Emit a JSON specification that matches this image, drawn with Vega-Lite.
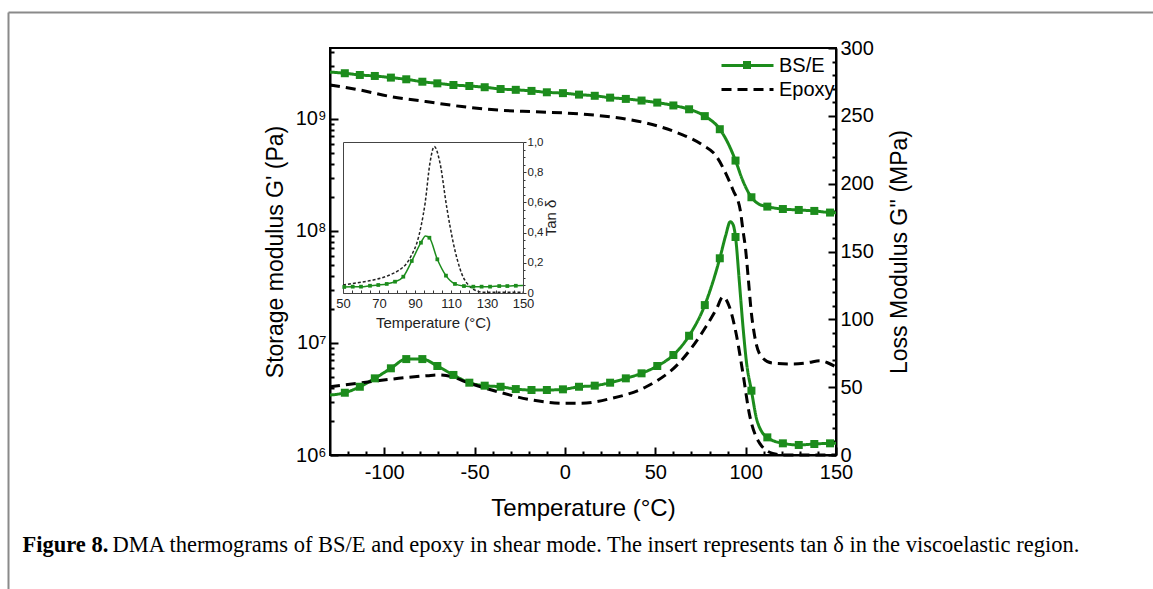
{
  "$schema": "https://vega.github.io/schema/vega-lite/v6.json",
  "autosize": {"type": "none"},
  "width": 506,
  "height": 407,
  "padding": {"left": 330, "top": 48, "right": 317, "bottom": 134},
  "background": "white",
  "config": {
    "font": "Liberation Sans",
    "view": {"stroke": "black", "strokeWidth": 2},
    "axis": {
      "grid": false, "labelFlush": false, "labelOverlap": false, "labelBound": false,
      "labelColor": "black", "tickColor": "black", "domainColor": "black", "titleColor": "black",
      "labelFont": "Liberation Sans", "titleFont": "Liberation Sans", "titleFontWeight": "normal"
    }
  },
  "datasets": {
    "storage": [
      {"sample": "BS/E", "T": -130, "G": 2.62e9}, {"sample": "BS/E", "T": -121.8, "G": 2.56e9}, {"sample": "BS/E", "T": -113.5, "G": 2.47e9},
      {"sample": "BS/E", "T": -105.2, "G": 2.42e9}, {"sample": "BS/E", "T": -96.3, "G": 2.34e9}, {"sample": "BS/E", "T": -87.8, "G": 2.26e9},
      {"sample": "BS/E", "T": -78.9, "G": 2.15e9}, {"sample": "BS/E", "T": -70.6, "G": 2.08e9}, {"sample": "BS/E", "T": -61.7, "G": 2.01e9},
      {"sample": "BS/E", "T": -52.9, "G": 1.97e9}, {"sample": "BS/E", "T": -44.4, "G": 1.92e9}, {"sample": "BS/E", "T": -35.6, "G": 1.85e9},
      {"sample": "BS/E", "T": -27.2, "G": 1.82e9}, {"sample": "BS/E", "T": -18.5, "G": 1.78e9}, {"sample": "BS/E", "T": -10, "G": 1.73e9},
      {"sample": "BS/E", "T": -1.1, "G": 1.70e9}, {"sample": "BS/E", "T": 7.8, "G": 1.65e9}, {"sample": "BS/E", "T": 16.5, "G": 1.61e9},
      {"sample": "BS/E", "T": 25, "G": 1.55e9}, {"sample": "BS/E", "T": 33.7, "G": 1.51e9}, {"sample": "BS/E", "T": 42.4, "G": 1.46e9},
      {"sample": "BS/E", "T": 51.1, "G": 1.40e9}, {"sample": "BS/E", "T": 60, "G": 1.32e9}, {"sample": "BS/E", "T": 68.7, "G": 1.22e9},
      {"sample": "BS/E", "T": 77.4, "G": 1.06e9}, {"sample": "BS/E", "T": 85.7, "G": 8.1e8}, {"sample": "BS/E", "T": 90.2, "G": 6.1e8},
      {"sample": "BS/E", "T": 94.4, "G": 4.25e8}, {"sample": "BS/E", "T": 98.3, "G": 2.85e8}, {"sample": "BS/E", "T": 103.2, "G": 2.0e8},
      {"sample": "BS/E", "T": 107, "G": 1.75e8}, {"sample": "BS/E", "T": 112, "G": 1.65e8}, {"sample": "BS/E", "T": 120.6, "G": 1.57e8},
      {"sample": "BS/E", "T": 129.4, "G": 1.54e8}, {"sample": "BS/E", "T": 138, "G": 1.51e8}, {"sample": "BS/E", "T": 146.7, "G": 1.46e8},
      {"sample": "BS/E", "T": 150, "G": 1.45e8},
      {"sample": "Epoxy", "T": -130, "G": 2.01e9}, {"sample": "Epoxy", "T": -114, "G": 1.82e9}, {"sample": "Epoxy", "T": -96, "G": 1.58e9},
      {"sample": "Epoxy", "T": -77, "G": 1.43e9}, {"sample": "Epoxy", "T": -57, "G": 1.29e9}, {"sample": "Epoxy", "T": -37, "G": 1.20e9},
      {"sample": "Epoxy", "T": -17, "G": 1.16e9}, {"sample": "Epoxy", "T": 8, "G": 1.11e9}, {"sample": "Epoxy", "T": 26, "G": 1.04e9},
      {"sample": "Epoxy", "T": 45, "G": 9.2e8}, {"sample": "Epoxy", "T": 63, "G": 7.45e8}, {"sample": "Epoxy", "T": 76, "G": 5.87e8},
      {"sample": "Epoxy", "T": 84, "G": 4.6e8}, {"sample": "Epoxy", "T": 89, "G": 3.27e8}, {"sample": "Epoxy", "T": 93, "G": 2.32e8},
      {"sample": "Epoxy", "T": 97, "G": 1.54e8}, {"sample": "Epoxy", "T": 98.5, "G": 1.02e8}, {"sample": "Epoxy", "T": 100, "G": 6.8e7},
      {"sample": "Epoxy", "T": 101.5, "G": 3.7e7}, {"sample": "Epoxy", "T": 103, "G": 1.97e7}, {"sample": "Epoxy", "T": 105, "G": 1.15e7},
      {"sample": "Epoxy", "T": 108.7, "G": 7.55e6}, {"sample": "Epoxy", "T": 115, "G": 6.6e6}, {"sample": "Epoxy", "T": 126, "G": 6.5e6},
      {"sample": "Epoxy", "T": 135, "G": 6.7e6}, {"sample": "Epoxy", "T": 141, "G": 6.95e6}, {"sample": "Epoxy", "T": 145, "G": 6.7e6},
      {"sample": "Epoxy", "T": 150, "G": 6.1e6}
    ],
    "storageMarkers": [
      {"sample": "BS/E", "T": -121.8, "G": 2.56e9}, {"sample": "BS/E", "T": -113.5, "G": 2.47e9}, {"sample": "BS/E", "T": -105.2, "G": 2.42e9},
      {"sample": "BS/E", "T": -96.3, "G": 2.34e9}, {"sample": "BS/E", "T": -87.8, "G": 2.26e9}, {"sample": "BS/E", "T": -78.9, "G": 2.15e9},
      {"sample": "BS/E", "T": -70.6, "G": 2.08e9}, {"sample": "BS/E", "T": -61.7, "G": 2.01e9}, {"sample": "BS/E", "T": -52.9, "G": 1.97e9},
      {"sample": "BS/E", "T": -44.4, "G": 1.92e9}, {"sample": "BS/E", "T": -35.6, "G": 1.85e9}, {"sample": "BS/E", "T": -27.2, "G": 1.82e9},
      {"sample": "BS/E", "T": -18.5, "G": 1.78e9}, {"sample": "BS/E", "T": -10, "G": 1.73e9}, {"sample": "BS/E", "T": -1.1, "G": 1.70e9},
      {"sample": "BS/E", "T": 7.8, "G": 1.65e9}, {"sample": "BS/E", "T": 16.5, "G": 1.61e9}, {"sample": "BS/E", "T": 25, "G": 1.55e9},
      {"sample": "BS/E", "T": 33.7, "G": 1.51e9}, {"sample": "BS/E", "T": 42.4, "G": 1.46e9}, {"sample": "BS/E", "T": 51.1, "G": 1.40e9},
      {"sample": "BS/E", "T": 60, "G": 1.32e9}, {"sample": "BS/E", "T": 68.7, "G": 1.22e9}, {"sample": "BS/E", "T": 77.4, "G": 1.06e9},
      {"sample": "BS/E", "T": 85.7, "G": 8.1e8}, {"sample": "BS/E", "T": 94.4, "G": 4.25e8}, {"sample": "BS/E", "T": 103.2, "G": 2.0e8},
      {"sample": "BS/E", "T": 112, "G": 1.65e8}, {"sample": "BS/E", "T": 120.6, "G": 1.57e8}, {"sample": "BS/E", "T": 129.4, "G": 1.54e8},
      {"sample": "BS/E", "T": 138, "G": 1.51e8}, {"sample": "BS/E", "T": 146.7, "G": 1.46e8}
    ],
    "loss": [
      {"sample": "BS/E", "T": -130, "L": 44.2}, {"sample": "BS/E", "T": -121.8, "L": 45.9}, {"sample": "BS/E", "T": -113.5, "L": 50.3},
      {"sample": "BS/E", "T": -105.2, "L": 56.5}, {"sample": "BS/E", "T": -96.3, "L": 63.9}, {"sample": "BS/E", "T": -87.8, "L": 70.7},
      {"sample": "BS/E", "T": -78.9, "L": 70.7}, {"sample": "BS/E", "T": -70.6, "L": 65.6}, {"sample": "BS/E", "T": -61.7, "L": 59},
      {"sample": "BS/E", "T": -52.9, "L": 53.3}, {"sample": "BS/E", "T": -44.4, "L": 51.1}, {"sample": "BS/E", "T": -35.6, "L": 50.3},
      {"sample": "BS/E", "T": -27.2, "L": 48.6}, {"sample": "BS/E", "T": -18.5, "L": 47.9}, {"sample": "BS/E", "T": -10, "L": 47.9},
      {"sample": "BS/E", "T": -1.1, "L": 48.4}, {"sample": "BS/E", "T": 7.8, "L": 50.3}, {"sample": "BS/E", "T": 16.5, "L": 51.1},
      {"sample": "BS/E", "T": 25, "L": 53.3}, {"sample": "BS/E", "T": 33.7, "L": 56.5}, {"sample": "BS/E", "T": 42.4, "L": 60.2},
      {"sample": "BS/E", "T": 51.1, "L": 65.6}, {"sample": "BS/E", "T": 60, "L": 73.7}, {"sample": "BS/E", "T": 68.7, "L": 87.9},
      {"sample": "BS/E", "T": 77.4, "L": 110.5}, {"sample": "BS/E", "T": 81.5, "L": 126}, {"sample": "BS/E", "T": 85.7, "L": 145},
      {"sample": "BS/E", "T": 89, "L": 162}, {"sample": "BS/E", "T": 91.5, "L": 172}, {"sample": "BS/E", "T": 93, "L": 170},
      {"sample": "BS/E", "T": 94.4, "L": 160.7}, {"sample": "BS/E", "T": 96.5, "L": 128}, {"sample": "BS/E", "T": 98.5, "L": 95},
      {"sample": "BS/E", "T": 100.5, "L": 68}, {"sample": "BS/E", "T": 103.2, "L": 47.4}, {"sample": "BS/E", "T": 106, "L": 27},
      {"sample": "BS/E", "T": 109, "L": 17}, {"sample": "BS/E", "T": 112, "L": 13}, {"sample": "BS/E", "T": 120.6, "L": 8.6},
      {"sample": "BS/E", "T": 129.4, "L": 7.4}, {"sample": "BS/E", "T": 138, "L": 8.1}, {"sample": "BS/E", "T": 146.7, "L": 8.6},
      {"sample": "BS/E", "T": 150, "L": 8.6},
      {"sample": "Epoxy", "T": -130, "L": 50.3}, {"sample": "Epoxy", "T": -115, "L": 52.8}, {"sample": "Epoxy", "T": -92, "L": 56.5},
      {"sample": "Epoxy", "T": -76, "L": 58.5}, {"sample": "Epoxy", "T": -70, "L": 59}, {"sample": "Epoxy", "T": -62, "L": 57.5},
      {"sample": "Epoxy", "T": -55, "L": 54}, {"sample": "Epoxy", "T": -37, "L": 46.6}, {"sample": "Epoxy", "T": -18, "L": 40.5},
      {"sample": "Epoxy", "T": 0, "L": 38.1}, {"sample": "Epoxy", "T": 8, "L": 38.1}, {"sample": "Epoxy", "T": 26, "L": 41.8},
      {"sample": "Epoxy", "T": 45, "L": 50.3}, {"sample": "Epoxy", "T": 63, "L": 67.6}, {"sample": "Epoxy", "T": 78, "L": 94.5},
      {"sample": "Epoxy", "T": 84, "L": 108}, {"sample": "Epoxy", "T": 87.4, "L": 116.6}, {"sample": "Epoxy", "T": 91, "L": 109.3},
      {"sample": "Epoxy", "T": 94.7, "L": 89.7}, {"sample": "Epoxy", "T": 98.5, "L": 60.2}, {"sample": "Epoxy", "T": 102, "L": 30.7},
      {"sample": "Epoxy", "T": 107.8, "L": 8.6}, {"sample": "Epoxy", "T": 115, "L": 1.2}, {"sample": "Epoxy", "T": 122, "L": 0},
      {"sample": "Epoxy", "T": 150, "L": 0}
    ],
    "lossMarkers": [
      {"sample": "BS/E", "T": -121.8, "L": 45.9}, {"sample": "BS/E", "T": -113.5, "L": 50.3}, {"sample": "BS/E", "T": -105.2, "L": 56.5},
      {"sample": "BS/E", "T": -96.3, "L": 63.9}, {"sample": "BS/E", "T": -87.8, "L": 70.7}, {"sample": "BS/E", "T": -78.9, "L": 70.7},
      {"sample": "BS/E", "T": -70.6, "L": 65.6}, {"sample": "BS/E", "T": -61.7, "L": 59}, {"sample": "BS/E", "T": -52.9, "L": 53.3},
      {"sample": "BS/E", "T": -44.4, "L": 51.1}, {"sample": "BS/E", "T": -35.6, "L": 50.3}, {"sample": "BS/E", "T": -27.2, "L": 48.6},
      {"sample": "BS/E", "T": -18.5, "L": 47.9}, {"sample": "BS/E", "T": -10, "L": 47.9}, {"sample": "BS/E", "T": -1.1, "L": 48.4},
      {"sample": "BS/E", "T": 7.8, "L": 50.3}, {"sample": "BS/E", "T": 16.5, "L": 51.1}, {"sample": "BS/E", "T": 25, "L": 53.3},
      {"sample": "BS/E", "T": 33.7, "L": 56.5}, {"sample": "BS/E", "T": 42.4, "L": 60.2}, {"sample": "BS/E", "T": 51.1, "L": 65.6},
      {"sample": "BS/E", "T": 60, "L": 73.7}, {"sample": "BS/E", "T": 68.7, "L": 87.9}, {"sample": "BS/E", "T": 77.4, "L": 110.5},
      {"sample": "BS/E", "T": 85.7, "L": 145}, {"sample": "BS/E", "T": 94.4, "L": 160.7}, {"sample": "BS/E", "T": 103.2, "L": 47.4},
      {"sample": "BS/E", "T": 112, "L": 13}, {"sample": "BS/E", "T": 120.6, "L": 8.6}, {"sample": "BS/E", "T": 129.4, "L": 7.4},
      {"sample": "BS/E", "T": 138, "L": 8.1}, {"sample": "BS/E", "T": 146.7, "L": 8.6}
    ],
    "tan": [
      {"sample": "Epoxy", "T": 50, "tan": 0.053}, {"sample": "Epoxy", "T": 58, "tan": 0.068}, {"sample": "Epoxy", "T": 66.8, "tan": 0.086},
      {"sample": "Epoxy", "T": 76.1, "tan": 0.12}, {"sample": "Epoxy", "T": 81, "tan": 0.15}, {"sample": "Epoxy", "T": 85.4, "tan": 0.197},
      {"sample": "Epoxy", "T": 88.5, "tan": 0.26}, {"sample": "Epoxy", "T": 91, "tan": 0.33}, {"sample": "Epoxy", "T": 93.5, "tan": 0.45},
      {"sample": "Epoxy", "T": 95.6, "tan": 0.594}, {"sample": "Epoxy", "T": 98.3, "tan": 0.86}, {"sample": "Epoxy", "T": 100.7, "tan": 0.97},
      {"sample": "Epoxy", "T": 103.9, "tan": 0.86}, {"sample": "Epoxy", "T": 107.6, "tan": 0.57}, {"sample": "Epoxy", "T": 111.3, "tan": 0.33},
      {"sample": "Epoxy", "T": 115.9, "tan": 0.13}, {"sample": "Epoxy", "T": 120.6, "tan": 0.042}, {"sample": "Epoxy", "T": 124, "tan": 0.015},
      {"sample": "Epoxy", "T": 128, "tan": 0.005}, {"sample": "Epoxy", "T": 150, "tan": 0.005},
      {"sample": "BS/E", "T": 50, "tan": 0.04}, {"sample": "BS/E", "T": 55.4, "tan": 0.042}, {"sample": "BS/E", "T": 60, "tan": 0.042},
      {"sample": "BS/E", "T": 65, "tan": 0.048}, {"sample": "BS/E", "T": 69.6, "tan": 0.053}, {"sample": "BS/E", "T": 74.3, "tan": 0.06},
      {"sample": "BS/E", "T": 78.9, "tan": 0.075}, {"sample": "BS/E", "T": 83.5, "tan": 0.108}, {"sample": "BS/E", "T": 88.2, "tan": 0.212},
      {"sample": "BS/E", "T": 93.3, "tan": 0.333}, {"sample": "BS/E", "T": 95.8, "tan": 0.378}, {"sample": "BS/E", "T": 98, "tan": 0.366},
      {"sample": "BS/E", "T": 102.4, "tan": 0.223}, {"sample": "BS/E", "T": 107.2, "tan": 0.115}, {"sample": "BS/E", "T": 112.2, "tan": 0.06},
      {"sample": "BS/E", "T": 117.2, "tan": 0.046}, {"sample": "BS/E", "T": 122.4, "tan": 0.042}, {"sample": "BS/E", "T": 127, "tan": 0.042},
      {"sample": "BS/E", "T": 131.7, "tan": 0.042}, {"sample": "BS/E", "T": 136.8, "tan": 0.046}, {"sample": "BS/E", "T": 141.3, "tan": 0.046},
      {"sample": "BS/E", "T": 146, "tan": 0.048}, {"sample": "BS/E", "T": 150, "tan": 0.05}
    ],
    "tanMarkers": [
      {"sample": "BS/E", "T": 50.7, "tan": 0.04}, {"sample": "BS/E", "T": 55.4, "tan": 0.042}, {"sample": "BS/E", "T": 60, "tan": 0.042},
      {"sample": "BS/E", "T": 65, "tan": 0.048}, {"sample": "BS/E", "T": 69.6, "tan": 0.053}, {"sample": "BS/E", "T": 74.3, "tan": 0.06},
      {"sample": "BS/E", "T": 78.9, "tan": 0.075}, {"sample": "BS/E", "T": 83.5, "tan": 0.108}, {"sample": "BS/E", "T": 88.2, "tan": 0.212},
      {"sample": "BS/E", "T": 93.3, "tan": 0.333}, {"sample": "BS/E", "T": 98, "tan": 0.366}, {"sample": "BS/E", "T": 102.4, "tan": 0.223},
      {"sample": "BS/E", "T": 107.2, "tan": 0.115}, {"sample": "BS/E", "T": 112.2, "tan": 0.06}, {"sample": "BS/E", "T": 117.2, "tan": 0.046},
      {"sample": "BS/E", "T": 122.4, "tan": 0.042}, {"sample": "BS/E", "T": 127, "tan": 0.042}, {"sample": "BS/E", "T": 131.7, "tan": 0.042},
      {"sample": "BS/E", "T": 136.8, "tan": 0.046}, {"sample": "BS/E", "T": 141.3, "tan": 0.046}, {"sample": "BS/E", "T": 146, "tan": 0.048}
    ]
  },
  "resolve": {"scale": {"x": "independent", "y": "independent"}, "axis": {"x": "independent", "y": "independent"}},
  "layer": [
    {
      "data": {"name": "tanMarkers"},
      "mark": {"type": "point", "opacity": 0},
      "encoding": {
        "x": {"field": "tan", "type": "quantitative", "scale": {"domain": [0, 1], "range": [-322, 823], "nice": false, "zero": false},
              "axis": {"orient": "top", "offset": 36, "domain": true, "domainColor": "#8a8a8a", "domainWidth": 2, "ticks": false, "labels": false, "title": null}},
        "y": {"field": "tan", "type": "quantitative", "scale": {"domain": [0, 1], "range": [541, -36], "nice": false, "zero": false},
              "axis": {"orient": "left", "offset": 322, "domain": true, "domainColor": "#8a8a8a", "domainWidth": 2, "ticks": false, "labels": false, "title": null}}
      }
    },
    {
      "data": {"name": "storage"},
      "mark": {"type": "line", "interpolate": "monotone", "strokeWidth": 3},
      "encoding": {
        "x": {"field": "T", "type": "quantitative", "scale": {"domain": [-130, 150], "nice": false, "zero": false},
              "axis": {"orient": "bottom", "values": [-120, -110, -100, -90, -80, -70, -60, -50, -40, -30, -20, -10, 0, 10, 20, 30, 40, 50, 60, 70, 80, 90, 100, 110, 120, 130, 140, 150],
                       "labelExpr": "datum.value % 50 === 0 ? '' + datum.value : ''",
                       "tickSize": {"condition": {"test": "datum.value % 50 === 0", "value": -8}, "value": -4},
                       "tickWidth": 2, "domainWidth": 2, "labelFontSize": 20, "labelPadding": 15,
                       "title": "Temperature (°C)", "titleFontSize": 24, "titlePadding": 10}},
        "y": {"field": "G", "type": "quantitative", "scale": {"type": "log", "domain": [1e6, 4.3e9], "nice": false},
              "axis": {"orient": "left",
                       "values": [1e6, 2e6, 3e6, 4e6, 5e6, 6e6, 7e6, 8e6, 9e6, 1e7, 2e7, 3e7, 4e7, 5e7, 6e7, 7e7, 8e7, 9e7, 1e8, 2e8, 3e8, 4e8, 5e8, 6e8, 7e8, 8e8, 9e8, 1e9, 2e9, 3e9, 4e9],
                       "labelExpr": "datum.value == 1e6 ? '10⁶' : datum.value == 1e7 ? '10⁷' : datum.value == 1e8 ? '10⁸' : datum.value == 1e9 ? '10⁹' : ''",
                       "tickSize": {"condition": {"test": "datum.value == 1e6 || datum.value == 1e7 || datum.value == 1e8 || datum.value == 1e9", "value": -8}, "value": -4},
                       "tickWidth": 2, "domainWidth": 2, "labelFontSize": 20, "labelPadding": 12,
                       "title": "Storage modulus G' (Pa)", "titleFontSize": 23, "titlePadding": 8}},
        "color": {"field": "sample", "type": "nominal", "scale": {"domain": ["BS/E", "Epoxy"], "range": ["#1c8c1c", "#000000"]},
                  "legend": {"orient": "none", "legendX": 390, "legendY": -10, "values": ["BS/E"], "title": null, "symbolType": "stroke", "symbolSize": 2704, "symbolStrokeWidth": 3,
                             "labelFont": "Liberation Sans", "labelFontSize": 20, "labelColor": "black", "labelOffset": 4, "padding": 0}},
        "strokeDash": {"field": "sample", "type": "nominal", "scale": {"domain": ["Epoxy", "BS/E"], "range": [[10, 6], [1, 0]]},
                  "legend": {"orient": "none", "legendX": 390, "legendY": 14, "values": ["Epoxy"], "title": null, "symbolType": "stroke", "symbolSize": 2704, "symbolStrokeWidth": 3,
                             "symbolStrokeColor": "black", "labelFont": "Liberation Sans", "labelFontSize": 20, "labelColor": "black", "labelOffset": 4, "padding": 0}}
      }
    },
    {
      "data": {"name": "loss"},
      "mark": {"type": "line", "interpolate": "monotone", "strokeWidth": 3},
      "encoding": {
        "x": {"field": "T", "type": "quantitative", "scale": {"domain": [-130, 150], "nice": false, "zero": false}, "axis": null},
        "y": {"field": "L", "type": "quantitative", "scale": {"domain": [0, 300], "nice": false, "zero": false},
              "axis": {"orient": "right", "values": [0, 10, 20, 30, 40, 50, 60, 70, 80, 90, 100, 110, 120, 130, 140, 150, 160, 170, 180, 190, 200, 210, 220, 230, 240, 250, 260, 270, 280, 290, 300],
                       "labelExpr": "datum.value % 50 === 0 ? '' + datum.value : ''",
                       "tickSize": {"condition": {"test": "datum.value % 50 === 0", "value": -8}, "value": -4},
                       "tickWidth": 2, "domainWidth": 2, "labelFontSize": 20, "labelPadding": 12,
                       "title": "Loss Modulus G'' (MPa)", "titleAngle": 270, "titleBaseline": "top", "titleFontSize": 23, "titlePadding": 15}},
        "color": {"field": "sample", "type": "nominal", "scale": {"domain": ["BS/E", "Epoxy"], "range": ["#1c8c1c", "#000000"]},
                  "legend": {"orient": "none", "legendX": 390, "legendY": -10, "values": ["BS/E"], "title": null, "symbolType": "stroke", "symbolSize": 2704, "symbolStrokeWidth": 3,
                             "labelFont": "Liberation Sans", "labelFontSize": 20, "labelColor": "black", "labelOffset": 4, "padding": 0}},
        "strokeDash": {"field": "sample", "type": "nominal", "scale": {"domain": ["Epoxy", "BS/E"], "range": [[10, 6], [1, 0]]},
                  "legend": {"orient": "none", "legendX": 390, "legendY": 14, "values": ["Epoxy"], "title": null, "symbolType": "stroke", "symbolSize": 2704, "symbolStrokeWidth": 3,
                             "symbolStrokeColor": "black", "labelFont": "Liberation Sans", "labelFontSize": 20, "labelColor": "black", "labelOffset": 4, "padding": 0}}
      }
    },
    {
      "data": {"name": "storageMarkers"},
      "mark": {"type": "point", "filled": true, "size": 64, "color": "#1c8c1c", "opacity": 1},
      "encoding": {
        "x": {"field": "T", "type": "quantitative", "scale": {"domain": [-130, 150], "nice": false, "zero": false},
              "axis": {"orient": "bottom", "domain": false, "ticks": false, "labels": false, "title": "Figure 8.",
                       "titleX": -308, "titleY": 96, "titleAlign": "left", "titleBaseline": "alphabetic",
                       "titleFont": "Liberation Serif", "titleFontSize": 22.5, "titleFontWeight": "bold"}},
        "y": {"field": "G", "type": "quantitative", "scale": {"type": "log", "domain": [1e6, 4.3e9], "nice": false}, "axis": null},
        "shape": {"field": "sample", "type": "nominal", "scale": {"domain": ["BS/E"], "range": ["square"]},
                  "legend": {"orient": "none", "legendX": 407, "legendY": 7, "title": null, "symbolSize": 64, "symbolFillColor": "#1c8c1c",
                             "symbolStrokeColor": "#1c8c1c", "symbolStrokeWidth": 0, "labelExpr": "''", "labelFontSize": 20, "labelOffset": 6, "padding": 0}}
      }
    },
    {
      "data": {"name": "lossMarkers"},
      "mark": {"type": "point", "filled": true, "size": 64, "color": "#1c8c1c", "opacity": 1},
      "encoding": {
        "x": {"field": "T", "type": "quantitative", "scale": {"domain": [-130, 150], "nice": false, "zero": false},
              "axis": {"orient": "bottom", "domain": false, "ticks": false, "labels": false,
                       "title": "DMA thermograms of BS/E and epoxy in shear mode. The insert represents tan δ in the viscoelastic region.",
                       "titleX": -218, "titleY": 96, "titleAlign": "left", "titleBaseline": "alphabetic",
                       "titleFont": "Liberation Serif", "titleFontSize": 22.5, "titleFontWeight": "normal"}},
        "y": {"field": "L", "type": "quantitative", "scale": {"domain": [0, 300], "nice": false, "zero": false}, "axis": null},
        "shape": {"field": "sample", "type": "nominal", "scale": {"domain": ["BS/E"], "range": ["square"]},
                  "legend": {"orient": "none", "legendX": 407, "legendY": 7, "title": null, "symbolSize": 64, "symbolFillColor": "#1c8c1c",
                             "symbolStrokeColor": "#1c8c1c", "symbolStrokeWidth": 0, "labelExpr": "''", "labelFontSize": 20, "labelOffset": 6, "padding": 0}}
      }
    },
    {
      "data": {"name": "tan"},
      "transform": [{"filter": "datum.sample === 'Epoxy'"}],
      "mark": {"type": "line", "interpolate": "monotone", "strokeWidth": 1.5, "strokeDash": [3, 2], "color": "#222222"},
      "encoding": {
        "x": {"field": "T", "type": "quantitative", "scale": {"domain": [50, 150], "range": [13, 193], "nice": false, "zero": false},
              "axis": {"orient": "bottom", "offset": -162, "values": [50, 55, 60, 65, 70, 75, 80, 85, 90, 95, 100, 105, 110, 115, 120, 125, 130, 135, 140, 145, 150],
                       "labelExpr": "(datum.value - 50) % 20 === 0 ? '' + datum.value : ''",
                       "tickSize": -3, "tickWidth": 1, "tickColor": "#333333", "domainColor": "#444444", "domainWidth": 1,
                       "labelFontSize": 13, "labelColor": "#222222", "labelPadding": 7,
                       "title": "Temperature (°C)", "titleFontSize": 15, "titleColor": "#222222", "titlePadding": 5}},
        "y": {"field": "tan", "type": "quantitative", "scale": {"domain": [0, 1], "range": [245, 94], "nice": false, "zero": false},
              "axis": {"orient": "right", "offset": -313,
                       "values": [0, 0.05, 0.1, 0.15, 0.2, 0.25, 0.3, 0.35, 0.4, 0.45, 0.5, 0.55, 0.6, 0.65, 0.7, 0.75, 0.8, 0.85, 0.9, 0.95, 1],
                       "labelExpr": "abs(datum.value * 5 - round(datum.value * 5)) < 1e-6 ? (datum.value === 0 ? '0' : replace(format(datum.value, '.1f'), '.', ',')) : ''",
                       "tickSize": {"condition": {"test": "abs(datum.value * 5 - round(datum.value * 5)) < 1e-6", "value": 3}, "value": 2},
                       "tickWidth": 1, "tickColor": "#333333", "domainColor": "#444444", "domainWidth": 1,
                       "labelFontSize": 11.5, "labelColor": "#222222", "labelPadding": 1,
                       "title": "Tan δ", "titleAngle": 270, "titleBaseline": "top", "titleFontSize": 15, "titleColor": "#222222", "titlePadding": 1}}
      }
    },
    {
      "data": {"name": "tan"},
      "transform": [{"filter": "datum.sample === 'BS/E'"}],
      "mark": {"type": "line", "interpolate": "monotone", "strokeWidth": 1.5, "color": "#1c8c1c"},
      "encoding": {
        "x": {"field": "T", "type": "quantitative", "scale": {"domain": [50, 150], "range": [13, 193], "nice": false, "zero": false}, "axis": null},
        "y": {"field": "tan", "type": "quantitative", "scale": {"domain": [0, 1], "range": [245, 94], "nice": false, "zero": false}, "axis": null}
      }
    },
    {
      "data": {"name": "tanMarkers"},
      "mark": {"type": "point", "filled": true, "shape": "square", "size": 14, "color": "#1c8c1c", "opacity": 1},
      "encoding": {
        "x": {"field": "T", "type": "quantitative", "scale": {"domain": [50, 150], "range": [13, 193], "nice": false, "zero": false},
              "axis": {"orient": "top", "offset": -94, "domain": true, "domainColor": "#444444", "domainWidth": 1, "ticks": false, "labels": false, "title": null}},
        "y": {"field": "tan", "type": "quantitative", "scale": {"domain": [0, 1], "range": [245, 94], "nice": false, "zero": false},
              "axis": {"orient": "left", "offset": -13, "domain": true, "domainColor": "#444444", "domainWidth": 1, "ticks": false, "labels": false, "title": null}}
      }
    }
  ]
}
